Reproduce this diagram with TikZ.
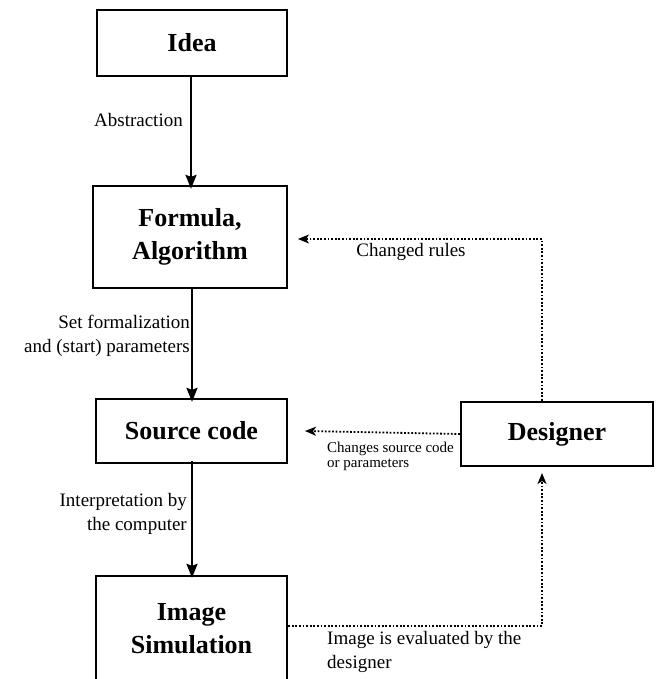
\documentclass[tikz,border=0pt]{standalone}
\usepackage{fontspec}
\setmainfont{Liberation Serif}
\usetikzlibrary{arrows.meta}

\tikzset{
  box/.style={draw, line width=2.3pt, minimum width=#1, inner sep=0pt},
  boxtext/.style={font=\fontsize{26}{33}\selectfont\bfseries, align=center, inner sep=0pt},
  lbl/.style={font=\fontsize{19}{24}\selectfont, inner sep=0pt},
  smalllbl/.style={font=\fontsize{15}{15}\selectfont, inner sep=0pt},
  flow/.style={line width=2.3pt, -{Stealth[length=14pt,width=11pt,inset=2pt]}},
  feedback/.style={line width=1.8pt, dash pattern=on 1.8pt off 1.8pt, -{Stealth[length=11pt,width=9pt,inset=3pt]}}
}

\begin{document}
\begin{tikzpicture}[x=1pt,y=-1pt]
\useasboundingbox (0,0) rectangle (657,679);

% main chain of boxes
\node[box=190pt, minimum height=66pt, boxtext] (idea) at (192,43) {Idea};
\node[box=194pt, minimum height=102pt, boxtext] (formula) at (190,237) {Formula,\\Algorithm};
\node[box=191pt, minimum height=64pt, boxtext] (source) at (191.5,431) {Source code};
\node[box=191pt, minimum height=150pt] (image) at (191.5,651) {};
\node[boxtext] (imagetxt) at (191.5,629) {Image\\Simulation};

% designer
\node[box=192pt, minimum height=64pt, boxtext] (designer) at (557,434) {Designer};

% forward flow
\draw[flow] (idea.south -| 191,0) -- ([yshift=-4pt]formula.north -| 191,0);
\draw[flow] (formula.south -| 192,0) -- ([yshift=-4pt]source.north -| 192,0);
\draw[flow] ([yshift=3pt]source.south -| 192,0) -- ([yshift=-3pt]image.north -| 192,0);

\node[lbl, anchor=east] (labstr) at (183,120) {Abstraction};
\node[lbl, anchor=east, align=right] (lform) at (190,336) {Set formalization\\and (start) parameters};
\node[lbl, anchor=east, align=right] (linterp) at (187,514) {Interpretation by\\the computer};

% feedback loops
\coordinate (cr) at (542,239);
\draw[feedback] (designer.north -| cr) -- (cr) -- (298,239);
\node[lbl] (lrules) at (411,252) {Changed rules};

\draw[feedback] (designer.west) -- (305,431);
\node[smalllbl, anchor=west, align=left] (lchanges) at (327,456) {Changes source code\\or parameters};

\coordinate (ev) at (542,626);
\draw[feedback] (image.east |- ev) -- (ev) -- (542,473);
\node[lbl, anchor=west, align=left] (leval) at (327,652) {Image is evaluated by the\\designer};
\end{tikzpicture}
\end{document}
